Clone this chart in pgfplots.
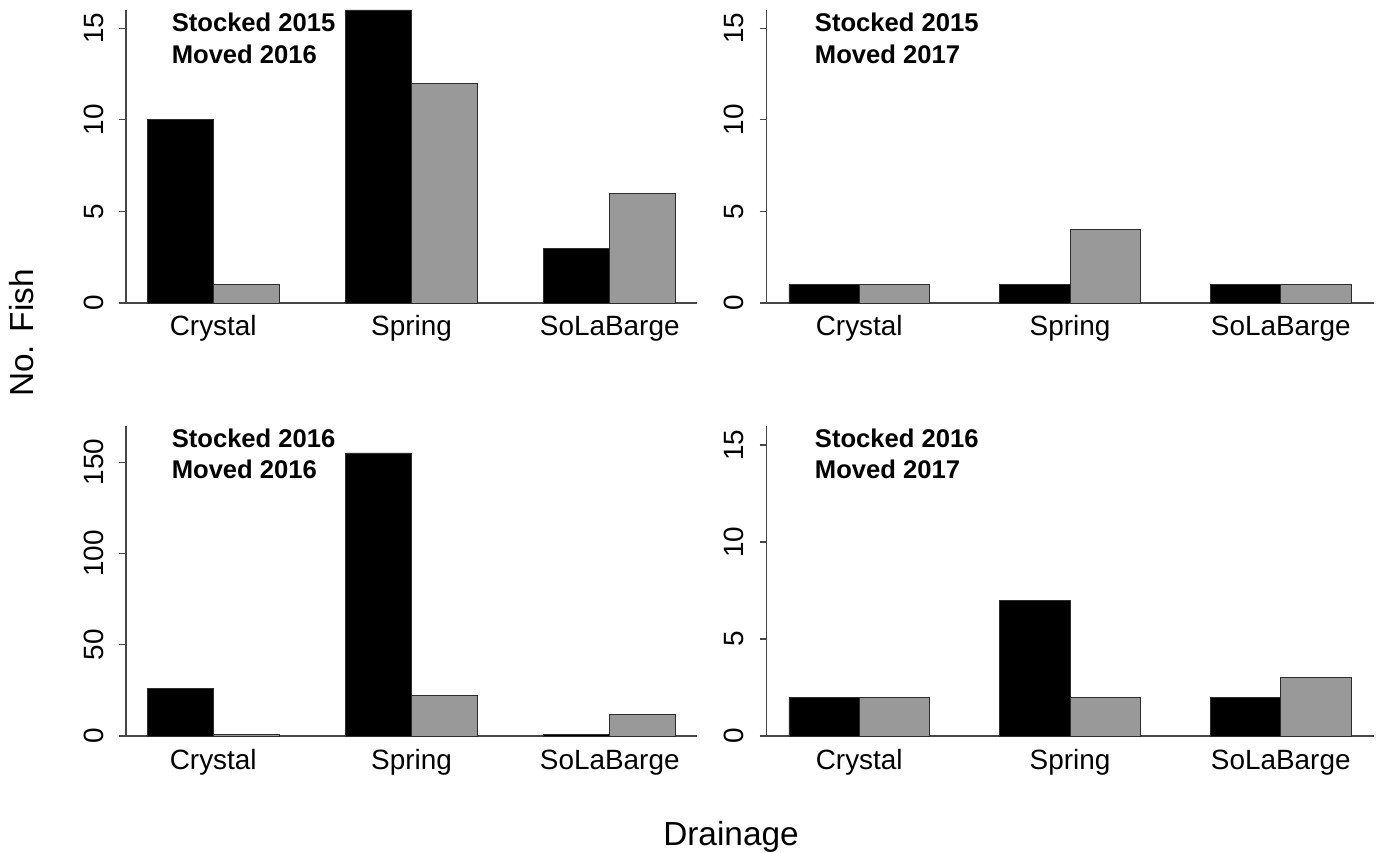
\documentclass[border=0pt]{standalone}
\usepackage{fontspec}
\setmainfont{Liberation Sans}
\usepackage{pgfplots}
\pgfplotsset{compat=1.18}

\definecolor{bargray}{RGB}{153,153,153}
\definecolor{edge}{RGB}{45,45,45}
\definecolor{axisgray}{RGB}{70,70,70}

\pgfplotsset{
  drainpanel/.style={
    scale only axis,
    anchor=south west,
    xmin=0.68, xmax=9.32, ymin=0,
    axis x line=bottom, axis y line=left,
    axis line style={-, axisgray, line width=1.1bp},
    xtick={2,5,8}, xticklabels={Crystal,Spring,SoLaBarge},
    x tick style={draw=none},
    y tick style={axisgray, line width=1.1bp},
    tick align=outside,
    major tick length=7bp,
    tick label style={font=\fontsize{28}{34}\selectfont},
    /pgf/number format/assume math mode=true,
    yticklabel style={xshift=-16bp, rotate=90, anchor=base},
    xticklabel style={anchor=base, yshift=-26bp},
    clip=false,
  },
  blackbar/.style={ybar, bar width=1, fill=black, draw=edge, line width=0.8bp},
  graybar/.style={ybar, bar width=1, fill=bargray, draw=edge, line width=0.8bp},
}

\newcommand{\paneltitle}[2]{%
  \node[anchor=base west, font=\bfseries\fontsize{25.7}{30}\selectfont]
    at ([yshift=-21.7bp]rel axis cs:0.074,1) {#1};
  \node[anchor=base west, font=\bfseries\fontsize{25.7}{30}\selectfont]
    at ([yshift=-53.3bp]rel axis cs:0.074,1) {#2};
}

\begin{document}
\begin{tikzpicture}
\path[use as bounding box] (0,0) rectangle (1377bp,853bp);

% Stocked 2015, moved 2016
\begin{axis}[drainpanel, at={(126bp,550bp)}, width=571bp, height=293bp,
  ymax=16, ytick={0,5,10,15}]
  \addplot[blackbar] coordinates {(1.5,10) (4.5,16) (7.5,3)};
  \addplot[graybar]  coordinates {(2.5,1) (5.5,12) (8.5,6)};
  \paneltitle{Stocked 2015}{Moved 2016}
\end{axis}

% Stocked 2015, moved 2017
\begin{axis}[drainpanel, at={(766.5bp,550bp)}, width=607bp, height=293bp,
  ymax=16, ytick={0,5,10,15}]
  \addplot[blackbar] coordinates {(1.5,1) (4.5,1) (7.5,1)};
  \addplot[graybar]  coordinates {(2.5,1) (5.5,4) (8.5,1)};
  \paneltitle{Stocked 2015}{Moved 2017}
\end{axis}

% Stocked 2016, moved 2016
\begin{axis}[drainpanel, at={(126bp,117bp)}, width=571bp, height=310.4bp,
  ymax=170, ytick={0,50,100,150}]
  \addplot[blackbar] coordinates {(1.5,26) (4.5,155) (7.5,1)};
  \addplot[graybar]  coordinates {(2.5,1) (5.5,22) (8.5,12)};
  \paneltitle{Stocked 2016}{Moved 2016}
\end{axis}

% Stocked 2016, moved 2017
\begin{axis}[drainpanel, at={(766.5bp,117bp)}, width=607bp, height=310.4bp,
  ymax=16, ytick={0,5,10,15}]
  \addplot[blackbar] coordinates {(1.5,2) (4.5,7) (7.5,2)};
  \addplot[graybar]  coordinates {(2.5,2) (5.5,2) (8.5,3)};
  \paneltitle{Stocked 2016}{Moved 2017}
\end{axis}

% shared axis titles
\node[anchor=base, font=\fontsize{33.5}{40}\selectfont] at (731bp,8bp) {Drainage};
\node[rotate=90, anchor=base, font=\fontsize{33.5}{40}\selectfont] at (33.5bp,520bp) {No. Fish};
\end{tikzpicture}
\end{document}
